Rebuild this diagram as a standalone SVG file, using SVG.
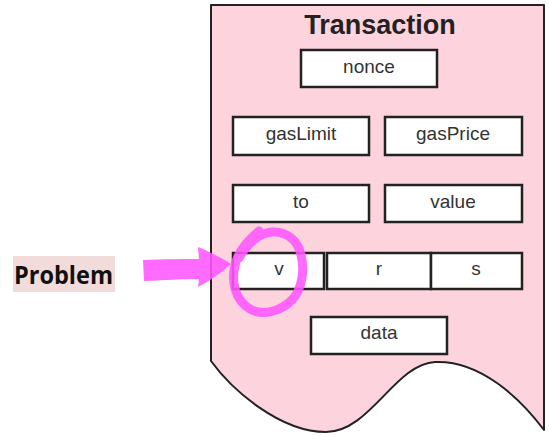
<svg xmlns="http://www.w3.org/2000/svg" width="549" height="436" viewBox="0 0 549 436">
  <style>
    .doc { fill: #fdd3de; stroke: #222; stroke-width: 2; stroke-linejoin: round; }
    .field rect { fill: #fff; stroke: #222; stroke-width: 2.5; }
    .field text { font-family: "Liberation Sans", Arial, sans-serif; font-size: 19px; fill: #333; text-anchor: middle; }
    .title { font-family: "Liberation Sans", Arial, sans-serif; font-size: 27px; font-weight: bold; fill: #222; text-anchor: middle; }
    .mark { fill: #ff55ff; opacity: 0.88; }
    .ring { fill: none; stroke: #ff55ff; stroke-width: 9; stroke-linecap: round; stroke-linejoin: round; opacity: 0.88; }
  </style>

  <!-- document shape with wavy bottom -->
  <g id="transaction">
    <path class="doc" d="M211,5 H544 V430 C520,398 480,360 435,362 C395,364 370,432 326,432 C280,432 232,390 211,361 Z"/>
    <text class="title" x="380" y="34">Transaction</text>
  </g>

  <g id="nonce" class="field"><rect x="301" y="50" width="136" height="37"/><text x="369" y="73">nonce</text></g>
  <g id="gasLimit" class="field"><rect x="233" y="117" width="136" height="38"/><text x="301" y="140">gasLimit</text></g>
  <g id="gasPrice" class="field"><rect x="385" y="117" width="137" height="38"/><text x="453" y="140">gasPrice</text></g>
  <g id="to" class="field"><rect x="233" y="185" width="136" height="37"/><text x="301" y="208">to</text></g>
  <g id="value" class="field"><rect x="385" y="185" width="137" height="37"/><text x="453" y="208">value</text></g>
  <g id="v" class="field"><rect x="233" y="253" width="91" height="36"/><text x="279" y="275">v</text></g>
  <g id="r" class="field"><rect x="327" y="253" width="104" height="36"/><text x="379" y="275">r</text></g>
  <g id="s" class="field"><rect x="431" y="253" width="91" height="36"/><text x="476" y="275">s</text></g>
  <g id="data" class="field"><rect x="311" y="317" width="136" height="37"/><text x="379" y="339">data</text></g>

  <!-- label -->
  <g id="problem">
    <rect x="13" y="256" width="102" height="36" fill="#f2dcdb"/>
    <text x="14" y="284" font-family="'Open Sans', 'Liberation Sans', Arial, sans-serif" font-size="25" font-weight="bold" fill="#111" textLength="99" lengthAdjust="spacingAndGlyphs">Problem</text>
  </g>

  <!-- highlight arrow and ring -->
  <g id="connectors">
    <path class="mark" d="M143,260 C165,259 185,259 199,259 L198,247 C210,252 222,258 231,264 C222,272 210,281 198,287 L199,279 C185,279 165,280 144,281 Z"/>
    <path class="ring" d="M259,231 C248,240 238,252 235,265 C231,282 235,300 250,309 C262,316 280,312 292,300 C302,289 305,270 301,255 C298,240 286,231 272,232 C258,233 246,245 239,258"/>
  </g>
</svg>
